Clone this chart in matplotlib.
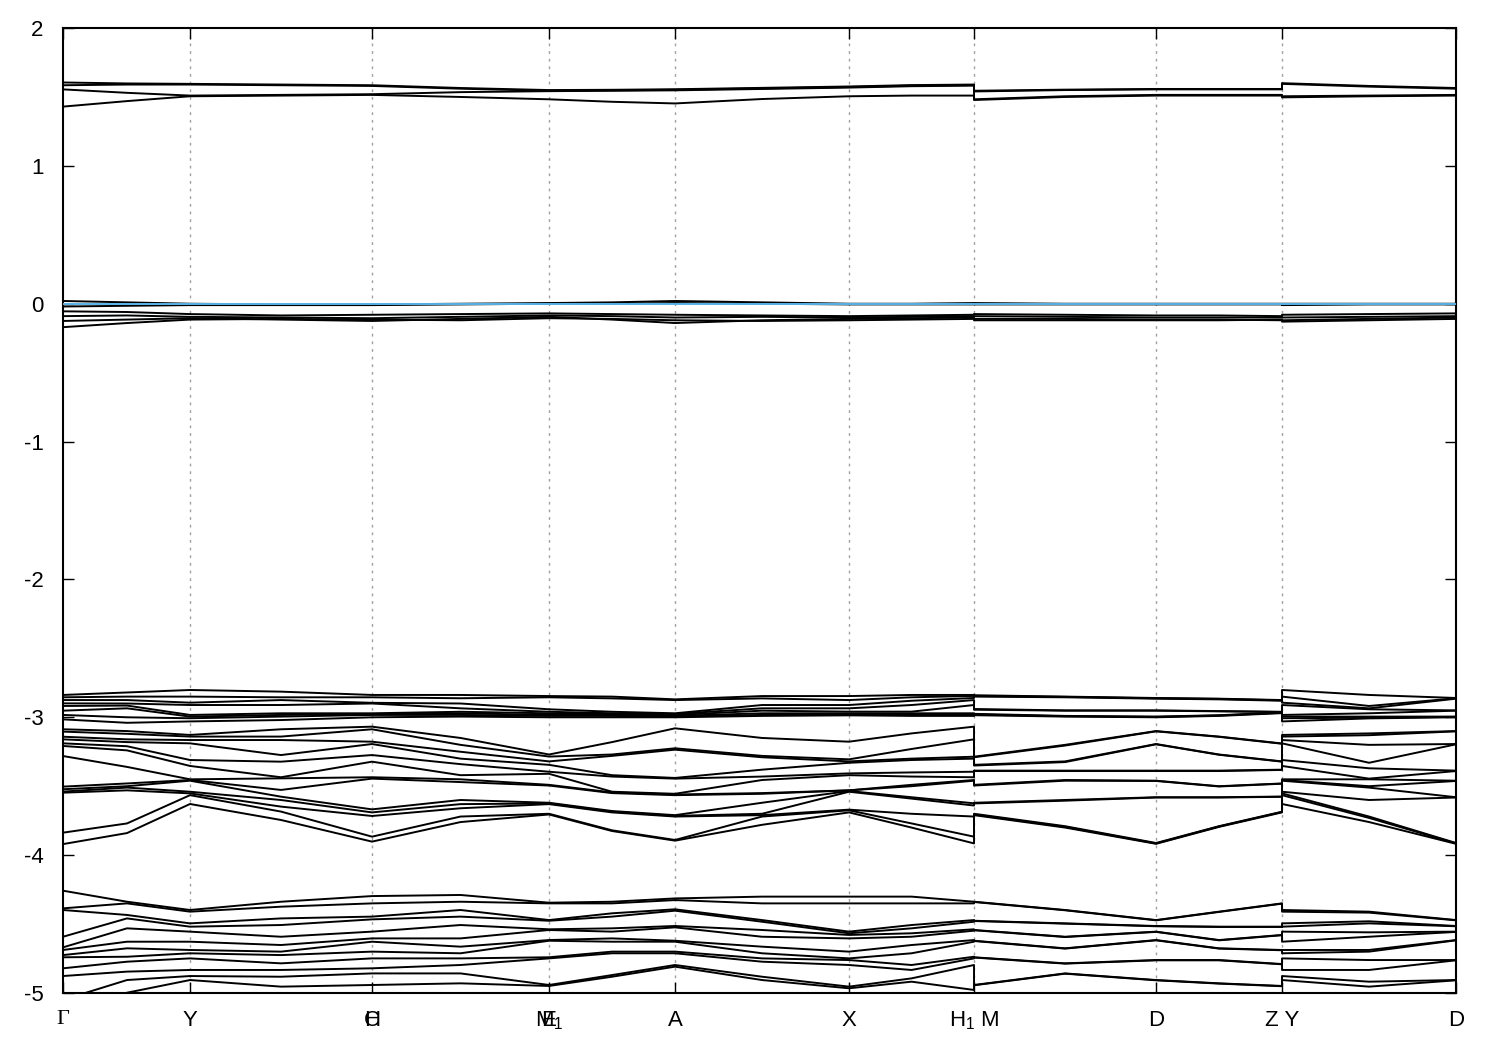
import numpy as np
import matplotlib
matplotlib.use('Agg')
import matplotlib.pyplot as plt

plt.rcParams['font.family'] = ['Liberation Sans', 'DejaVu Sans']
plt.rcParams['axes.unicode_minus'] = False
plt.rcParams['mathtext.fontset'] = 'custom'
plt.rcParams['mathtext.rm'] = 'Liberation Sans'

# k-path: high-symmetry points (distance along path); H/C and E/M1 coincide
sym_k = [0.0, 0.3647, 0.8873, 0.8873, 1.3956, 1.3956, 1.7574, 2.2570, 2.6159, 3.1386, 3.5003, 4.0]
sym_labels = ['Γ', 'Y', 'H', 'C', 'E', 'M$_1$', 'A', 'X', 'H$_1$ M', 'D', 'Z Y', 'D']

# k nodes where band energies were read (H1|M and Z|Y are jumps)
k_nodes = [0.0, 0.1838, 0.3647, 0.626, 0.8873, 1.1415, 1.3956, 1.5765, 1.7574, 2.0072,
           2.2570, 2.4365, 2.6159, 2.6159, 2.8773, 3.1386, 3.3195, 3.5003, 3.5003, 3.7502, 4.0]

# conduction bands (eV), one list per band
cb1 = [1.43, 1.47, 1.505, 1.51, 1.515, 1.50, 1.483, 1.465, 1.453, 1.485, 1.505, 1.51, 1.51,
       1.478, 1.50, 1.51, 1.51, 1.51, 1.497, 1.505, 1.51]
cb2 = [1.555, 1.53, 1.51, 1.515, 1.52, 1.535, 1.542, 1.545, 1.548, 1.558, 1.568, 1.578, 1.582,
       1.483, 1.505, 1.515, 1.515, 1.515, 1.505, 1.51, 1.515]
cb3 = [1.585, 1.59, 1.59, 1.585, 1.58, 1.56, 1.545, 1.548, 1.552, 1.562, 1.572, 1.582, 1.587,
       1.54, 1.55, 1.555, 1.555, 1.555, 1.595, 1.575, 1.56]
cb4 = [1.605, 1.598, 1.595, 1.59, 1.585, 1.565, 1.55, 1.552, 1.556, 1.566, 1.576, 1.586, 1.59,
       1.545, 1.553, 1.558, 1.558, 1.558, 1.60, 1.58, 1.565]

# bands right at the Fermi level
vb1 = [0.02, 0.01, 0.0, -0.005, -0.005, 0.0, 0.005, 0.01, 0.02, 0.01, 0.0, 0.0, 0.005,
       0.005, 0.0, 0.0, 0.0, 0.0, 0.0, 0.0, 0.0]
vb2 = [-0.02, -0.015, -0.01, -0.01, -0.01, -0.005, 0.0, 0.0, 0.005, 0.0, -0.005, -0.005, -0.005,
       -0.005, -0.005, -0.005, -0.005, -0.005, -0.01, -0.005, -0.005]
vb3 = [-0.055, -0.06, -0.075, -0.085, -0.08, -0.075, -0.07, -0.075, -0.08, -0.085, -0.09, -0.085, -0.08,
       -0.075, -0.08, -0.085, -0.085, -0.09, -0.08, -0.075, -0.07]
vb4 = [-0.09, -0.085, -0.095, -0.1, -0.105, -0.095, -0.085, -0.09, -0.1, -0.095, -0.1, -0.095, -0.09,
       -0.09, -0.095, -0.1, -0.1, -0.1, -0.1, -0.095, -0.09]
vb5 = [-0.125, -0.115, -0.105, -0.115, -0.125, -0.11, -0.095, -0.115, -0.14, -0.12, -0.11, -0.105, -0.1,
       -0.11, -0.11, -0.115, -0.115, -0.12, -0.12, -0.11, -0.1]
vb6 = [-0.17, -0.14, -0.115, -0.11, -0.115, -0.12, -0.105, -0.11, -0.12, -0.125, -0.12, -0.115, -0.11,
       -0.12, -0.12, -0.12, -0.12, -0.115, -0.13, -0.12, -0.11]

# -2.8 .. -4 eV manifold: energies at each k node (21 bands)
mid_Y = [-2.802, -2.85, -2.894, -2.911, -2.983, -2.995, -3.007, -3.03, -3.128, -3.14, -3.165,
         -3.189, -3.31, -3.353, -3.45, -3.455, -3.46, -3.54, -3.552, -3.565, -3.629]
mid_D = [-2.86, -2.862, -2.865, -2.95, -2.952, -2.995, -2.997, -3.0, -3.10, -3.102, -3.194,
         -3.196, -3.387, -3.39, -3.46, -3.462, -3.58, -3.582, -3.912, -3.915, -3.918]
mid_levels = [
    [-2.838, -2.855, -2.875, -2.899, -2.918, -2.952, -2.983, -3.015, -3.087, -3.104, -3.141,
     -3.16, -3.189, -3.208, -3.281, -3.503, -3.522, -3.539, -3.547, -3.837, -3.92],
    [-2.82, -2.85, -2.875, -2.9, -2.915, -2.935, -3.0, -3.04, -3.1, -3.12, -3.16,
     -3.18, -3.21, -3.24, -3.36, -3.48, -3.5, -3.51, -3.53, -3.77, -3.84],
    mid_Y,
    [-2.814, -2.855, -2.875, -2.911, -2.971, -2.983, -2.995, -3.02, -3.087, -3.14, -3.165,
     -3.274, -3.322, -3.435, -3.443, -3.527, -3.576, -3.60, -3.648, -3.684, -3.745],
    [-2.838, -2.855, -2.895, -2.9, -2.971, -2.978, -2.983, -3.0, -3.068, -3.087, -3.177,
     -3.194, -3.274, -3.322, -3.435, -3.445, -3.668, -3.69, -3.716, -3.866, -3.902],
    [-2.838, -2.862, -2.9, -2.935, -2.96, -2.971, -2.983, -2.995, -3.15, -3.2, -3.25,
     -3.3, -3.34, -3.42, -3.45, -3.47, -3.6, -3.63, -3.66, -3.72, -3.76],
    [-2.846, -2.855, -2.942, -2.96, -2.971, -2.983, -2.99, -3.0, -3.27, -3.285, -3.32,
     -3.345, -3.395, -3.41, -3.49, -3.495, -3.62, -3.625, -3.63, -3.70, -3.705],
    [-2.85, -2.863, -2.96, -2.971, -2.976, -2.983, -2.99, -3.0, -3.18, -3.27, -3.28,
     -3.42, -3.43, -3.54, -3.545, -3.55, -3.68, -3.685, -3.69, -3.82, -3.825],
    [-2.87, -2.875, -2.971, -2.976, -2.983, -2.99, -2.995, -3.0, -3.08, -3.225, -3.235,
     -3.44, -3.445, -3.555, -3.56, -3.565, -3.71, -3.715, -3.72, -3.89, -3.895],
    [-2.846, -2.863, -2.911, -2.935, -2.952, -2.971, -2.983, -2.99, -3.15, -3.28, -3.29,
     -3.38, -3.43, -3.455, -3.55, -3.555, -3.62, -3.7, -3.71, -3.72, -3.78],
    [-2.846, -2.875, -2.911, -2.935, -2.959, -2.971, -2.979, -2.986, -3.177, -3.305, -3.32,
     -3.33, -3.407, -3.42, -3.53, -3.53, -3.535, -3.54, -3.67, -3.675, -3.69],
    [-2.838, -2.855, -2.88, -2.911, -2.959, -2.971, -2.981, -2.99, -3.117, -3.23, -3.3,
     -3.31, -3.4, -3.43, -3.49, -3.5, -3.58, -3.59, -3.7, -3.77, -3.8],
    [-2.838, -2.845, -2.86, -2.875, -2.911, -2.971, -2.983, -2.99, -3.068, -3.16, -3.286,
     -3.3, -3.395, -3.435, -3.455, -3.46, -3.624, -3.64, -3.72, -3.866, -3.915],
    [-2.84, -2.845, -2.85, -2.94, -2.945, -2.975, -2.98, -2.985, -3.286, -3.29, -3.345,
     -3.35, -3.387, -3.39, -3.49, -3.495, -3.62, -3.625, -3.70, -3.705, -3.71],
    [-2.85, -2.852, -2.855, -2.95, -2.952, -2.99, -2.992, -2.995, -3.2, -3.205, -3.32,
     -3.325, -3.387, -3.39, -3.455, -3.46, -3.6, -3.605, -3.79, -3.795, -3.8],
    mid_D,
    [-2.865, -2.867, -2.87, -2.955, -2.957, -2.985, -2.987, -2.99, -3.14, -3.142, -3.27,
     -3.272, -3.387, -3.39, -3.50, -3.502, -3.58, -3.582, -3.79, -3.792, -3.795],
    [-2.875, -2.877, -2.88, -2.96, -2.962, -2.965, -2.967, -2.97, -3.19, -3.192, -3.32,
     -3.322, -3.38, -3.382, -3.48, -3.482, -3.575, -3.577, -3.685, -3.687, -3.69],
    mid_Y,
    [-2.838, -2.918, -2.935, -2.942, -2.971, -2.995, -3.003, -3.008, -3.117, -3.13, -3.2,
     -3.33, -3.37, -3.445, -3.45, -3.5, -3.51, -3.6, -3.72, -3.73, -3.76],
    mid_D,
]

# -4.2 .. -5 eV manifold (12 bands)
low_Y = [-4.398, -4.41, -4.495, -4.519, -4.555, -4.628, -4.688, -4.712, -4.749, -4.833, -4.877, -4.906]
low_D = [-4.471, -4.473, -4.514, -4.516, -4.555, -4.557, -4.616, -4.618, -4.761, -4.763, -4.906, -4.908]
low_levels = [
    [-4.258, -4.386, -4.398, -4.592, -4.669, -4.688, -4.725, -4.741, -4.821, -4.877, -5.05, -5.12],
    [-4.338, -4.35, -4.434, -4.459, -4.531, -4.628, -4.676, -4.737, -4.773, -4.845, -4.906, -4.998],
    low_Y,
    [-4.338, -4.374, -4.459, -4.507, -4.592, -4.652, -4.70, -4.725, -4.785, -4.833, -4.882, -4.954],
    [-4.297, -4.35, -4.446, -4.466, -4.555, -4.604, -4.628, -4.70, -4.749, -4.821, -4.858, -4.942],
    [-4.289, -4.338, -4.398, -4.446, -4.507, -4.604, -4.664, -4.712, -4.749, -4.797, -4.858, -4.93],
    [-4.345, -4.35, -4.471, -4.476, -4.538, -4.543, -4.616, -4.621, -4.741, -4.749, -4.942, -4.949],
    [-4.338, -4.35, -4.422, -4.446, -4.531, -4.555, -4.604, -4.628, -4.70, -4.712, -4.87, -4.882],
    [-4.314, -4.326, -4.393, -4.403, -4.514, -4.524, -4.621, -4.628, -4.70, -4.712, -4.797, -4.809],
    [-4.301, -4.35, -4.471, -4.483, -4.543, -4.592, -4.664, -4.712, -4.749, -4.773, -4.882, -4.906],
    [-4.301, -4.35, -4.555, -4.567, -4.579, -4.604, -4.70, -4.749, -4.761, -4.797, -4.954, -4.966],
    [-4.301, -4.35, -4.507, -4.531, -4.567, -4.592, -4.652, -4.712, -4.797, -4.833, -4.894, -4.918],
    [-4.338, -4.35, -4.471, -4.483, -4.538, -4.548, -4.616, -4.628, -4.737, -4.749, -4.797, -4.978],
    [-4.338, -4.34, -4.476, -4.478, -4.543, -4.545, -4.621, -4.623, -4.741, -4.743, -4.942, -4.944],
    [-4.398, -4.4, -4.495, -4.497, -4.592, -4.594, -4.676, -4.678, -4.785, -4.787, -4.858, -4.86],
    low_D,
    [-4.41, -4.412, -4.519, -4.521, -4.616, -4.618, -4.676, -4.678, -4.761, -4.763, -4.93, -4.932],
    [-4.35, -4.352, -4.519, -4.521, -4.579, -4.581, -4.688, -4.69, -4.79, -4.792, -4.949, -4.951],
    low_Y,
    [-4.41, -4.417, -4.48, -4.495, -4.56, -4.592, -4.688, -4.70, -4.761, -4.833, -4.918, -4.954],
    low_D,
]

E_fermi = 0.0

k = np.array(k_nodes)
bands = [cb1, cb2, cb3, cb4, vb1, vb2, vb3, vb4, vb5, vb6]
bands += list(np.sort(np.array(mid_levels), axis=1).T[::-1])
bands += list(np.sort(np.array(low_levels), axis=1).T[::-1])

fig = plt.figure(figsize=(15, 10.5), dpi=100)
ax = fig.add_axes([0.042, 0.0543, 0.9287, 0.919])

for xv in sorted(set(sym_k[1:-1])):
    ax.axvline(xv, color='#a0a0a0', lw=1.0, ls=(0, (2, 3.5)), zorder=1)

for b in bands:
    ax.plot(k, b, color='black', lw=1.4, zorder=2)

ax.axhline(E_fermi, color='#56b4e9', lw=1.4, zorder=3)

ax.set_xlim(sym_k[0], sym_k[-1])
ax.set_ylim(-5, 2)
ax.set_yticks(np.arange(-5, 3, 1))
ax.set_yticklabels([str(v) for v in range(-5, 3)])

# x labels drawn as text so that coinciding points (H/C, E/M1) overprint
ax.set_xticks(sorted(set(sym_k)))
ax.set_xticklabels([])
for xv, lab in zip(sym_k, sym_labels):
    fam = ['Liberation Serif', 'DejaVu Serif'] if lab == 'Γ' else ['Liberation Sans', 'DejaVu Sans']
    ax.annotate(lab, xy=(xv, 0), xycoords=('data', 'axes fraction'),
                xytext=(0, -12), textcoords='offset points',
                ha='center', va='top', fontsize=16, family=fam)

ax.tick_params(axis='both', direction='in', length=8, width=1.0, labelsize=16,
               top=True, right=True)
ax.tick_params(axis='y', pad=14)
for s in ax.spines.values():
    s.set_linewidth(1.5)

plt.savefig('out.png', dpi=100)
plt.close()
